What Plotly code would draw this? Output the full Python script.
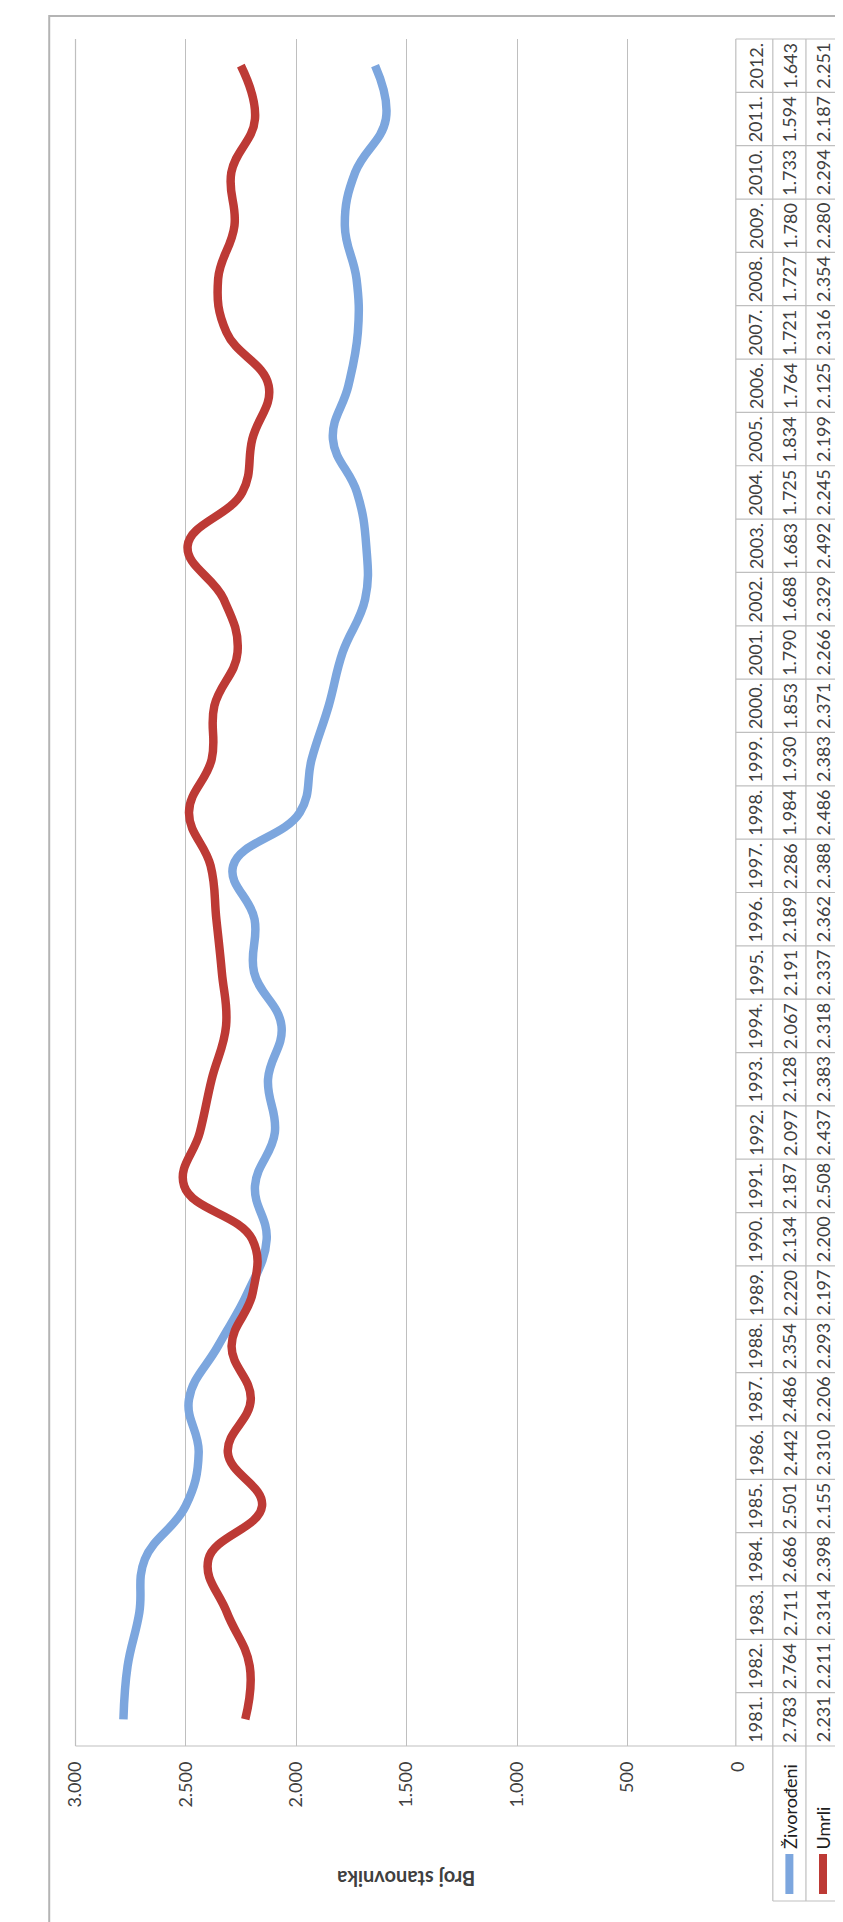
import plotly.graph_objects as go

W, H = 843, 1922

godine = ['1981.', '1982.', '1983.', '1984.', '1985.', '1986.', '1987.', '1988.',
          '1989.', '1990.', '1991.', '1992.', '1993.', '1994.', '1995.', '1996.',
          '1997.', '1998.', '1999.', '2000.', '2001.', '2002.', '2003.', '2004.',
          '2005.', '2006.', '2007.', '2008.', '2009.', '2010.', '2011.', '2012.']
zivorodjeni = [2783, 2764, 2711, 2686, 2501, 2442, 2486, 2354, 2220, 2134, 2187, 2097,
               2128, 2067, 2191, 2189, 2286, 1984, 1930, 1853, 1790, 1688, 1683, 1725,
               1834, 1764, 1721, 1727, 1780, 1733, 1594, 1643]
umrli = [2231, 2211, 2314, 2398, 2155, 2310, 2206, 2293, 2197, 2200, 2508, 2437,
         2383, 2318, 2337, 2362, 2388, 2486, 2383, 2371, 2266, 2329, 2492, 2245,
         2199, 2125, 2316, 2354, 2280, 2294, 2187, 2251]
tick_vals = [0, 500, 1000, 1500, 2000, 2500, 3000]
tick_text = ['0', '500', '1.000', '1.500', '2.000', '2.500', '3.000']

BLUE = '#7ca6de'
RED = '#bd3a35'
GRID = '#bfbfbf'
TXT = '#404040'
FONT = 'Lato'
FS = 18

# pixel -> paper helpers (chart is rotated 90 degrees)
def px(x):
    return x / W

def py(y):
    return 1 - y / H

def fmt(v):
    return f'{v:,}'.replace(',', '.')

# plot area in pixels
L, R, T, B = 57, 737, 31, 1738
C1, C2, C3 = 773, 807, 842   # table column borders

fig = go.Figure()
fig.add_trace(go.Scatter(x=zivorodjeni, y=godine, mode='lines', name='Živorođeni',
                         line=dict(color=BLUE, width=8.5, shape='spline', smoothing=1.2)))
fig.add_trace(go.Scatter(x=umrli, y=godine, mode='lines', name='Umrli',
                         line=dict(color=RED, width=8.5, shape='spline', smoothing=1.2)))

shapes = []
ann = []

# outer chart border
shapes.append(dict(type='rect', xref='paper', yref='paper', x0=px(30), x1=px(860),
                   y0=py(1940), y1=py(8), line=dict(color='#b4b4b4', width=2)))

# data table (rotated): borders between categories
for i in range(1, len(godine)):
    y = i - 0.5
    shapes.append(dict(type='line', xref='paper', yref='y', x0=px(R - 2), x1=px(C3),
                       y0=y, y1=y, line=dict(color=GRID, width=1.2)))
shapes.append(dict(type='line', xref='paper', yref='paper', x0=px(R - 2), x1=px(C3),
                   y0=py(T), y1=py(T), line=dict(color=GRID, width=1.2)))
for cx in (C1, C2, C3):
    shapes.append(dict(type='line', xref='paper', yref='paper', x0=px(cx), x1=px(cx),
                       y0=py(T), y1=py(1893), line=dict(color=GRID, width=1.2)))
shapes.append(dict(type='line', xref='paper', yref='paper', x0=px(R - 2), x1=px(R - 2),
                   y0=py(T), y1=py(B), line=dict(color=GRID, width=1.2)))
shapes.append(dict(type='line', xref='paper', yref='paper', x0=px(L), x1=px(L),
                   y0=py(T), y1=py(B), line=dict(color=GRID, width=1.2)))
shapes.append(dict(type='line', xref='paper', yref='paper', x0=px(L), x1=px(C3),
                   y0=py(B), y1=py(B), line=dict(color=GRID, width=1.2)))
shapes.append(dict(type='line', xref='paper', yref='paper', x0=px(C1), x1=px(C3),
                   y0=py(1893), y1=py(1893), line=dict(color=GRID, width=1.2)))

# table text (category axis: annotation y is the category index)
cols = [((R + C1) / 2, list(godine)),
        ((C1 + C2) / 2, [fmt(v) for v in zivorodjeni]),
        ((C2 + C3) / 2, [fmt(v) for v in umrli])]
for cx, texts in cols:
    for i, t in enumerate(texts):
        ann.append(dict(x=px(cx), y=i, xref='paper', yref='y', text=t, showarrow=False,
                        textangle=-90, xanchor='center', yanchor='middle',
                        font=dict(family=FONT, size=FS, color=TXT)))

# legend keys in the table header
for cx, col, name in (((C1 + C2) / 2, BLUE, 'Živorođeni'), ((C2 + C3) / 2, RED, 'Umrli')):
    shapes.append(dict(type='line', xref='paper', yref='paper', x0=px(cx), x1=px(cx),
                       y0=py(1886), y1=py(1846), line=dict(color=col, width=8)))
    ann.append(dict(x=px(cx), y=py(1843), xref='paper', yref='paper', text=name,
                    showarrow=False, textangle=-90, xanchor='center', yanchor='bottom',
                    font=dict(family=FONT, size=FS, color='#202020')))

# axis title (upside down after rotation)
ann.append(dict(x=px((L + R) / 2), y=py(1885), xref='paper', yref='paper',
                text='Broj stanovnika', showarrow=False, textangle=180,
                font=dict(family=FONT, size=20, color=TXT, weight='bold')))

fig.update_layout(
    width=W, height=H,
    margin=dict(l=0, r=0, t=0, b=0),
    paper_bgcolor='white', plot_bgcolor='white',
    showlegend=False,
    font=dict(family=FONT, size=FS, color=TXT),
    shapes=shapes, annotations=ann,
    xaxis=dict(domain=[px(L), px(R)], range=[3000, 0], autorange=False,
               tickvals=tick_vals, ticktext=tick_text, tickangle=-90,
               ticks='', ticklabelstandoff=11, showgrid=True, gridcolor=GRID,
               gridwidth=1.2, zeroline=False, showline=False,
               tickfont=dict(family=FONT, size=FS, color=TXT)),
    yaxis=dict(domain=[py(B), py(T)], type='category', range=[-0.5, len(godine) - 0.5],
               autorange=False, showgrid=False, zeroline=False, showline=False,
               showticklabels=False, ticks=''),
)

fig.write_html('out.html')
